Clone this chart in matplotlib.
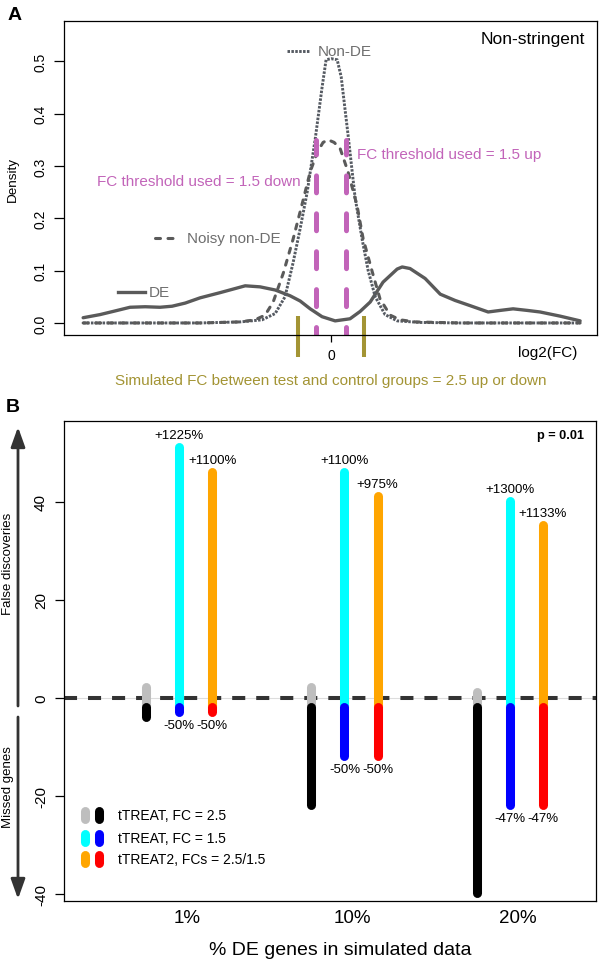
import matplotlib
matplotlib.use('Agg')
import matplotlib.pyplot as plt
import numpy as np
from matplotlib.patches import FancyArrowPatch
from matplotlib.lines import Line2D

plt.rcParams['font.family'] = ['Liberation Sans', 'DejaVu Sans']
plt.rcParams['axes.unicode_minus'] = False
plt.rcParams['lines.scale_dashes'] = False

# ---------------- Panel A data (density of log2 fold changes) ----------------
DE_X = [-9.84, -9.17, -8.57, -7.98, -7.38, -6.79, -6.31, -5.79, -5.20, -4.40, -3.41, -2.82,
        -2.22, -1.63, -1.23, -0.83, -0.36, 0.16, 0.75, 1.15, 1.55, 2.06, 2.62, 2.82, 3.13,
        3.73, 4.33, 4.92, 5.52, 6.23, 6.71, 7.22, 7.78, 8.29, 9.09, 9.88]
DE_Y = [0.010, 0.016, 0.023, 0.030, 0.031, 0.030, 0.032, 0.038, 0.048, 0.058, 0.071, 0.069,
        0.063, 0.052, 0.042, 0.027, 0.012, 0.004, 0.008, 0.022, 0.040, 0.078, 0.103, 0.107,
        0.104, 0.085, 0.055, 0.043, 0.033, 0.021, 0.024, 0.027, 0.024, 0.021, 0.013, 0.004]

NONDE_X = [-9.84, -7.0, -5.2, -3.61, -2.74, -2.22, -1.83, -1.51, -1.23, -0.95, -0.63, -0.36,
           -0.20, 0.0, 0.24, 0.40, 0.67, 0.95, 1.23, 1.47, 1.75, 2.14, 2.62, 3.53, 5.12, 7.5, 9.88]
NONDE_Y = [0.0, 0.0, 0.0, 0.002, 0.006, 0.018, 0.05, 0.115, 0.18, 0.25, 0.352, 0.45,
           0.503, 0.505, 0.503, 0.47, 0.36, 0.24, 0.16, 0.10, 0.05, 0.016, 0.004, 0.001, 0.0, 0.0, 0.0]

NOISY_X = [-9.84, -5.2, -3.61, -3.02, -2.62, -2.30, -1.90, -1.51, -1.11, -0.83, -0.56, -0.32,
           -0.12, 0.12, 0.36, 0.67, 1.03, 1.27, 1.63, 1.94, 2.34, 2.74, 3.33, 5.12, 9.88]
NOISY_Y = [0.0, 0.0, 0.002, 0.006, 0.015, 0.04, 0.095, 0.16, 0.235, 0.289, 0.325, 0.345,
           0.35, 0.345, 0.333, 0.289, 0.224, 0.161, 0.098, 0.046, 0.015, 0.006, 0.002, 0.0, 0.0]

THRESHOLD_FC = 1.5
SIMULATED_FC = 2.5
A_YTICKS = [0.0, 0.1, 0.2, 0.3, 0.4, 0.5]
A_YTICKLABELS = ['0.0', '0.1', '0.2', '0.3', '0.4', '0.5']

# ---------------- Panel B data ----------------
GROUPS = ['1%', '10%', '20%']
METHODS = ['tTREAT, FC = 2.5', 'tTREAT, FC = 1.5', 'tTREAT2, FCs = 2.5/1.5']
FALSE_DISC = [[4, 53, 48], [4, 48, 43], [3, 42, 37]]
MISSED = [[2, 1, 1], [20, 10, 10], [38, 20, 20]]
UP_LABELS = [['', '+1225%', '+1100%'], ['', '+1100%', '+975%'], ['', '+1300%', '+1133%']]
DOWN_LABELS = [['', '-50%', '-50%'], ['', '-50%', '-50%'], ['', '-47%', '-47%']]
B_YTICKS = [-40, -20, 0, 20, 40]
B_YTICKLABELS = ['-40', '-20', '0', '20', '40']

UP_COLORS = ['#BEBEBE', '#00FFFF', '#FFA500']
DOWN_COLORS = ['#000000', '#0000FF', '#FF0000']

CURVE = '#5a5a5a'
DOTCOL = '#555a62'
TXTGRAY = '#6e6e6e'
PINK = '#C264B9'
OLIVE = '#A39434'
DOTS = (0, (1.8, 1.0))
DASHES = (0, (3.6, 5.4))

fig = plt.figure(figsize=(6, 9.62), dpi=100)
W, H = 600, 962

# ================= Panel A =================
axA = fig.add_axes([64 / W, 1 - 336 / H, (597 - 64) / W, (336 - 22) / H])
axA.plot(DE_X, DE_Y, color=CURVE, lw=2.4, solid_joinstyle='round', solid_capstyle='round')
axA.plot(NONDE_X, NONDE_Y, color=DOTCOL, lw=2.1, linestyle=DOTS, dash_capstyle='butt')
axA.plot(NOISY_X, NOISY_Y, color=CURVE, lw=2.2, linestyle=DASHES, dash_capstyle='round')

thr = np.log2(THRESHOLD_FC)
for s in (-1, 1):
    axA.plot([s * thr, s * thr], [-0.04, 0.35], color=PINK, lw=3.6,
             linestyle=(0, (12.2, 15.1)), dash_capstyle='round')
sim = np.log2(SIMULATED_FC)
for s in (-1, 1):
    axA.plot([s * sim, s * sim], [0.013, -0.065], color=OLIVE, lw=2.9,
             clip_on=False, solid_capstyle='butt')

axA.set_xlim(-10.6, 10.55)
axA.set_ylim(-0.023, 0.577)
axA.set_yticks(A_YTICKS)
axA.set_yticklabels(A_YTICKLABELS, fontsize=10)
axA.set_xticks([0])
axA.set_xticklabels(['0'], fontsize=10)
for lbl in axA.get_yticklabels():
    lbl.set_rotation(90)
    lbl.set_va('center')
axA.tick_params(axis='y', length=7, width=0.9, pad=5)
axA.tick_params(axis='x', length=5, width=0.9, pad=4)
for sp in axA.spines.values():
    sp.set_linewidth(0.9)
axA.set_ylabel('Density', fontsize=9.7)
axA.yaxis.set_label_coords((19 - 64) / 533, 0.5)

# in-plot labels
axA.plot([-1.75, -0.83], [0.52, 0.52], color=DOTCOL, lw=2.1, linestyle=DOTS,
         dash_capstyle='butt')
axA.text(-0.52, 0.52, 'Non-DE', color=TXTGRAY, fontsize=11, ha='left', va='center')
axA.plot([-6.98, -5.99], [0.1625, 0.1625], color=CURVE, lw=2.2, linestyle=DASHES,
         dash_capstyle='round')
axA.text(-5.71, 0.1625, 'Noisy non-DE', color=TXTGRAY, fontsize=11, ha='left', va='center')
axA.plot([-8.45, -7.38], [0.059, 0.059], color=CURVE, lw=2.4)
axA.text(-7.22, 0.059, 'DE', color=TXTGRAY, fontsize=11, ha='left', va='center')
axA.text(-1.23, 0.271, 'FC threshold used = 1.5 down', color=PINK, fontsize=11,
         ha='right', va='center')
axA.text(1.03, 0.323, 'FC threshold used = 1.5 up', color=PINK, fontsize=11,
         ha='left', va='center')
axA.text(0.9775, 0.943, 'Non-stringent', color='black', fontsize=12.5,
         ha='right', va='center', transform=axA.transAxes)
axA.text(0.0, -0.143, 'Simulated FC between test and control groups = 2.5 up or down',
         color=OLIVE, fontsize=11, ha='center', va='center',
         transform=axA.get_xaxis_transform())
axA.text(0.964, -0.054, 'log2(FC)', color='black', fontsize=11, ha='right', va='center',
         transform=axA.transAxes)

# ================= Panel B =================
axB = fig.add_axes([64 / W, 1 - 902 / H, (596 - 64) / W, (902 - 422) / H])
positions = np.arange(1, len(GROUPS) + 1)
offsets = [-0.2, 0.0, 0.2]
BASE = -1.8
axB.axhline(0, color='#dddddd', lw=0.8, zorder=1)
axB.axhline(0, color='#333333', lw=2.9, linestyle=(0, (9.4, 7.9)), zorder=2)
for gi, g in enumerate(positions):
    for mi, off in enumerate(offsets):
        x = g + off
        axB.plot([x, x], [BASE, BASE + FALSE_DISC[gi][mi]], color=UP_COLORS[mi], lw=6.5,
                 solid_capstyle='round', zorder=3)
        axB.plot([x, x], [BASE, BASE - MISSED[gi][mi]], color=DOWN_COLORS[mi], lw=6.5,
                 solid_capstyle='round', zorder=4)
        if UP_LABELS[gi][mi]:
            axB.annotate(UP_LABELS[gi][mi], (x, BASE + FALSE_DISC[gi][mi]),
                         xytext=(0, 8.6), textcoords='offset points',
                         ha='center', va='center', fontsize=9.5)
        if DOWN_LABELS[gi][mi]:
            axB.annotate(DOWN_LABELS[gi][mi], (x, BASE - MISSED[gi][mi]),
                         xytext=(0, -9.4), textcoords='offset points',
                         ha='center', va='center', fontsize=9.5)

axB.set_xlim(0.305, 3.52)
axB.set_ylim(-41.4, 56.5)
axB.set_yticks(B_YTICKS)
axB.set_yticklabels(B_YTICKLABELS, fontsize=11)
for lbl in axB.get_yticklabels():
    lbl.set_rotation(90)
    lbl.set_va('center')
axB.set_xticks(positions + 0.05)
axB.set_xticklabels(GROUPS, fontsize=13.5)
axB.tick_params(axis='y', length=6.5, width=0.9, pad=5)
axB.tick_params(axis='x', length=0, pad=6)
for sp in axB.spines.values():
    sp.set_linewidth(0.9)
axB.set_xlabel('% DE genes in simulated data', fontsize=14)
axB.xaxis.set_label_coords((340 - 64) / 532, -0.083)

axB.text(0.977, 0.971, 'p = 0.01', fontsize=9.2, fontweight='bold', ha='right', va='center',
         transform=axB.transAxes)

# legend (capsule markers)
rows = [0.179, 0.131, 0.0875]
half = 0.0083
for ri, y in enumerate(rows):
    for xm, col in ((0.0395, UP_COLORS[ri]), (0.0658, DOWN_COLORS[ri])):
        axB.add_line(Line2D([xm, xm], [y - half, y + half], color=col, lw=6.5,
                            solid_capstyle='round', transform=axB.transAxes))
    axB.text(0.1015, y, METHODS[ri], fontsize=10, ha='left', va='center',
             transform=axB.transAxes)

# side arrows and labels
fig.add_artist(FancyArrowPatch((18 / W, 1 - 707 / H), (18 / W, 1 - 428 / H),
                               transform=fig.transFigure, arrowstyle='-|>,head_length=1.2,head_width=0.43',
                               mutation_scale=10, lw=2.0, color='#333333', shrinkA=0, shrinkB=0))
fig.add_artist(FancyArrowPatch((18 / W, 1 - 718 / H), (18 / W, 1 - 900 / H),
                               transform=fig.transFigure, arrowstyle='-|>,head_length=1.2,head_width=0.43',
                               mutation_scale=10, lw=2.0, color='#333333', shrinkA=0, shrinkB=0))
fig.text(8 / W, 1 - 564 / H, 'False discoveries', rotation=90, fontsize=9.5,
         ha='center', va='center')
fig.text(8 / W, 1 - 787 / H, 'Missed genes', rotation=90, fontsize=9.5,
         ha='center', va='center')

fig.text(15 / W, 1 - 15 / H, 'A', fontsize=14, fontweight='bold', ha='center', va='center')
fig.text(13 / W, 1 - 408 / H, 'B', fontsize=14, fontweight='bold', ha='center', va='center')

fig.savefig('out.png', dpi=100)
